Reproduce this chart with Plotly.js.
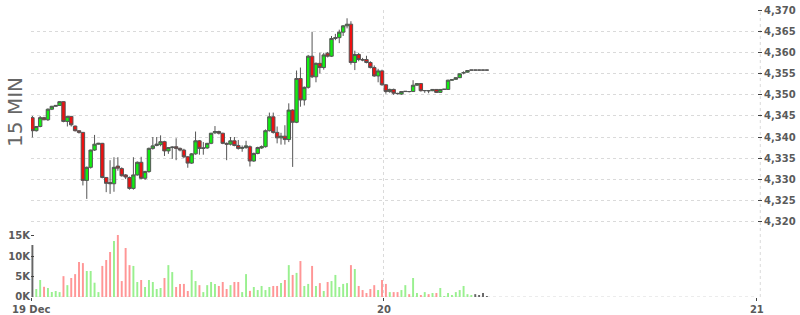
<!DOCTYPE html>
<html>
<head>
<meta charset="utf-8">
<script src="https://cdn.plot.ly/plotly-3.0.1.min.js"></script>
<style>html,body{margin:0;padding:0;background:#fff;}#chart{width:800px;height:315px;}</style>
</head>
<body>
<div id="chart"></div>
<script>
// 15-minute candles, 19 Dec 01:15 -> 20 Dec ~06:30
const startTime = Date.UTC(2019, 11, 19, 1, 22, 30); // candle centre of first bar
const stepMs = 15 * 60 * 1000;

const open = [4344.6,4341.5,4342.5,4344.6,4344.1,4346.6,4347.3,4347.5,4348.4,4343.7,
4344.9,4342.6,4341.5,4341.1,4329.7,4332.8,4336.9,4338.3,4338.5,4330.4,
4329.2,4328.9,4333.1,4332.5,4331.0,4330.4,4327.8,4331.0,4334.0,4330.2,
4331.8,4337.3,4338.0,4338.2,4338.9,4336.7,4337.5,4337.7,4337.3,4336.9,
4335.3,4333.8,4336.0,4339.1,4337.3,4337.4,4338.5,4341.0,4341.3,4340.9,
4338.5,4338.3,4339.1,4338.0,4337.3,4337.5,4337.7,4334.3,4336.1,4337.4,
4337.7,4341.5,4344.8,4341.1,4339.8,4340.2,4339.4,4346.4,4343.5,4353.9,
4348.8,4351.8,4359.2,4354.3,4357.5,4356.5,4359.9,4359.2,4363.4,4363.6,
4364.9,4366.4,4366.8,4357.7,4359.6,4358.4,4358.4,4357.7,4356.5,4354.5,
4355.7,4352.4,4350.8,4351.3,4350.3,4350.2,4350.8,4350.8,4350.8,4352.3,
4352.7,4351.0,4351.0,4351.0,4351.3,4350.6,4351.3,4351.3,4353.5,4353.7,
4354.1,4355.2,4355.4,4355.9,4355.9,4355.9,4355.9,4355.9];
const high = [4345.0,4342.6,4345.0,4344.8,4346.8,4347.4,4347.6,4348.5,4348.5,4345.0,
4345.0,4342.7,4341.6,4341.2,4333.0,4337.0,4340.5,4338.6,4338.6,4330.5,
4334.5,4335.2,4335.2,4332.8,4331.2,4330.6,4335.2,4334.2,4335.3,4332.0,
4337.5,4340.0,4340.0,4340.4,4339.1,4337.6,4337.8,4339.7,4337.5,4337.2,
4335.5,4336.2,4341.3,4339.3,4338.8,4338.6,4341.0,4342.6,4341.5,4341.0,
4338.7,4340.0,4340.0,4339.3,4338.0,4339.1,4338.0,4336.3,4337.7,4338.0,
4341.8,4345.8,4345.8,4342.5,4341.0,4342.8,4348.0,4346.6,4355.8,4356.5,
4352.0,4359.5,4365.0,4357.7,4360.0,4360.0,4360.2,4364.0,4364.5,4365.5,
4366.6,4368.2,4367.5,4360.5,4360.0,4358.8,4359.3,4358.0,4357.0,4356.2,
4356.0,4352.6,4351.5,4351.5,4350.5,4350.9,4350.9,4350.9,4353.5,4352.8,
4352.8,4351.1,4351.1,4351.4,4351.4,4351.4,4351.4,4353.6,4353.7,4354.2,
4355.1,4355.6,4355.9,4355.9,4355.9,4355.9,4355.9,4355.9];
const low = [4339.9,4341.3,4342.3,4344.0,4343.8,4346.4,4347.2,4347.4,4343.5,4342.5,
4342.5,4341.3,4340.8,4328.5,4325.3,4332.5,4336.7,4338.2,4330.2,4326.9,
4326.5,4327.0,4332.0,4330.6,4330.0,4327.5,4327.5,4330.8,4330.0,4329.8,
4331.5,4337.0,4337.8,4337.8,4335.5,4336.0,4334.8,4334.5,4336.6,4335.0,
4332.7,4333.6,4335.8,4335.8,4335.8,4337.2,4338.3,4340.7,4340.6,4338.3,
4334.5,4338.0,4337.8,4337.0,4336.5,4337.2,4333.0,4334.1,4335.9,4337.2,
4337.5,4341.3,4340.8,4338.5,4338.2,4338.2,4338.8,4332.9,4343.3,4347.2,
4347.5,4351.5,4354.0,4353.0,4355.1,4356.0,4358.9,4359.0,4363.0,4362.3,
4364.0,4365.8,4357.2,4355.9,4358.0,4358.0,4357.5,4356.3,4354.3,4353.0,
4352.2,4350.3,4350.5,4350.0,4350.1,4350.0,4350.7,4350.6,4350.7,4352.2,
4350.8,4350.5,4350.4,4350.9,4350.5,4350.5,4351.2,4351.2,4353.4,4353.6,
4354.0,4354.9,4355.3,4355.9,4355.9,4355.9,4355.9,4355.9];
const close = [4341.5,4342.5,4344.6,4344.1,4346.6,4347.3,4347.5,4348.4,4343.7,4344.9,
4342.9,4341.5,4341.1,4329.7,4332.8,4336.9,4338.3,4338.5,4330.4,4329.0,
4328.9,4332.8,4332.6,4330.8,4330.5,4327.8,4331.0,4334.0,4330.2,4331.8,
4337.3,4337.9,4338.3,4338.9,4336.7,4337.5,4337.6,4337.3,4336.9,4335.3,
4333.8,4336.0,4339.1,4337.3,4337.4,4338.5,4340.9,4341.3,4340.9,4338.5,
4338.3,4339.1,4338.0,4337.3,4337.5,4337.9,4334.3,4336.1,4337.5,4337.7,
4341.5,4344.8,4341.1,4339.8,4340.2,4339.4,4346.4,4343.5,4353.9,4348.8,
4351.8,4359.2,4354.3,4357.5,4356.5,4359.5,4359.2,4363.4,4363.6,4364.9,
4366.4,4366.8,4357.7,4359.6,4358.4,4358.3,4357.7,4356.5,4354.5,4355.7,
4352.4,4350.8,4351.3,4350.4,4350.35,4350.8,4350.85,4350.8,4352.3,4352.7,
4351.0,4351.05,4351.0,4351.3,4350.6,4351.3,4351.35,4353.5,4353.6,4354.1,
4355.0,4355.3,4355.8,4355.9,4355.9,4355.9,4355.9,4355.9];
// volume in thousands
const volumeK = [12.7,
1.96,4.16,2.5,2.2,1.22,1.47,1.2,5.1,2.9,4.65,
5.6,8.56,8.3,6.36,6.36,3.5,1.2,7.6,9.05,11.0,
13.7,15.2,3.9,12.0,7.8,7.6,3.67,4.16,2.45,4.16,
3.67,1.96,2.2,4.65,7.8,6.1,2.45,3.2,3.2,1.47,
6.6,3.9,2.9,1.2,2.9,3.67,3.2,2.7,3.67,1.96,
2.9,3.67,3.67,1.2,5.6,
1.5,
2.45,1.7,
2.7,1.7,2.45,2.7,2.7,3.4,4.16,7.8,5.4,5.9,
8.8,2.7,3.2,7.6,2.7,3.4,1.47,3.67,3.9,5.4,
2.45,3.2,3.4,7.8,6.85,2.7,1.7,0.98,1.96,2.9,
1.7,4.16,3.2,1.2,1.2,1.2,1.7,2.9,0.7,4.65,
0.98,0.49,1.2,0.7,0.98,0.98,2.2,0.25,0.98,0.49,
1.2,1.7,2.7,0.7,0.49,0.7,0.49,0.98,0.25];

const xTickVals = ['2019-12-19 01:17:40', '2019-12-20 00:00:00', '2019-12-21 00:00:00'];
const xTickText = ['19 Dec', '20', '21'];
const volTickVals = [0, 5, 10, 15];
const volTickText = ['0K', '5K', '10K', '15K'];
const priceTitle = '15 MIN';

function fmt(ms) { return new Date(ms).toISOString().slice(0, 19).replace('T', ' '); }
const times = open.map((_, i) => fmt(startTime + i * stepMs));

const UP = '#99f08f', DOWN = '#ff9696', FLAT = '#666666';
const volColors = close.map((c, i) => i === 0 ? FLAT : (c > close[i - 1] ? UP : (c < close[i - 1] ? DOWN : FLAT)));

const tickFont = {family: 'DejaVu Sans', size: 10, color: '#5a5a5a', weight: 'bold'};
const gridCol = '#dadada';

const traces = [
  {
    type: 'candlestick', x: times, open: open, high: high, low: low, close: close,
    xaxis: 'x', yaxis: 'y', whiskerwidth: 0,
    increasing: {line: {color: '#555555', width: 1}, fillcolor: '#11ee11'},
    decreasing: {line: {color: '#555555', width: 1}, fillcolor: '#ee1111'},
    hoverinfo: 'skip'
  },
  {
    type: 'bar', x: times, y: volumeK, xaxis: 'x', yaxis: 'y2',
    width: stepMs * 0.5, marker: {color: volColors, line: {width: 0}}, hoverinfo: 'skip'
  }
];

const layout = {
  width: 800, height: 315,
  margin: {l: 31, r: 43, t: 10, b: 18, pad: 0},
  paper_bgcolor: '#ffffff', plot_bgcolor: '#ffffff',
  showlegend: false, boxgap: 0.12, boxgroupgap: 0,
  xaxis: {
    type: 'date', anchor: 'y2',
    range: ['2019-12-19 01:17:06', '2019-12-21 00:00:30'],
    tickmode: 'array', tickvals: xTickVals, ticktext: xTickText,
    showgrid: true, gridcolor: gridCol, griddash: '3px,3px', gridwidth: 1,
    ticks: 'outside', ticklen: 3, tickcolor: '#444', tickfont: tickFont,
    showline: false, zeroline: false, rangeslider: {visible: false}, fixedrange: true
  },
  yaxis: {
    domain: [0.2344, 1], anchor: 'x', side: 'right',
    range: [4317.98, 4370.17], dtick: 5, tick0: 4320, tickformat: ',d',
    showgrid: true, gridcolor: gridCol, griddash: '3px,3px', gridwidth: 1,
    ticks: 'outside', ticklen: 4, tickcolor: '#444', tickfont: tickFont,
    zeroline: false, showline: false
  },
  yaxis2: {
    domain: [0, 0.2344], anchor: 'x', side: 'left',
    range: [0, 16.46], tickmode: 'array', tickvals: volTickVals, ticktext: volTickText,
    showgrid: false, zeroline: false, showline: false,
    ticks: 'inside', ticklen: 3, tickcolor: '#444', tickfont: tickFont
  },
  shapes: [
    {type: 'line', xref: 'paper', yref: 'y2', x0: 0, x1: 1, y0: 0, y1: 0,
     line: {color: gridCol, width: 1, dash: '3px,3px'}, layer: 'below'},
    {type: 'line', xref: 'paper', yref: 'paper', x0: 1.0045, x1: 1.0045, y0: 0, y1: 1,
     line: {color: gridCol, width: 1, dash: '3px,3px'}, layer: 'below'}
  ],
  annotations: [
    {text: priceTitle, xref: 'paper', yref: 'paper', x: 0, y: 0.645,
     xanchor: 'center', yanchor: 'middle', xshift: -16, textangle: -90, showarrow: false,
     font: {family: 'DejaVu Sans', size: 20, color: '#666666'}}
  ]
};

Plotly.newPlot('chart', traces, layout, {staticPlot: true, displayModeBar: false});
</script>
</body>
</html>
